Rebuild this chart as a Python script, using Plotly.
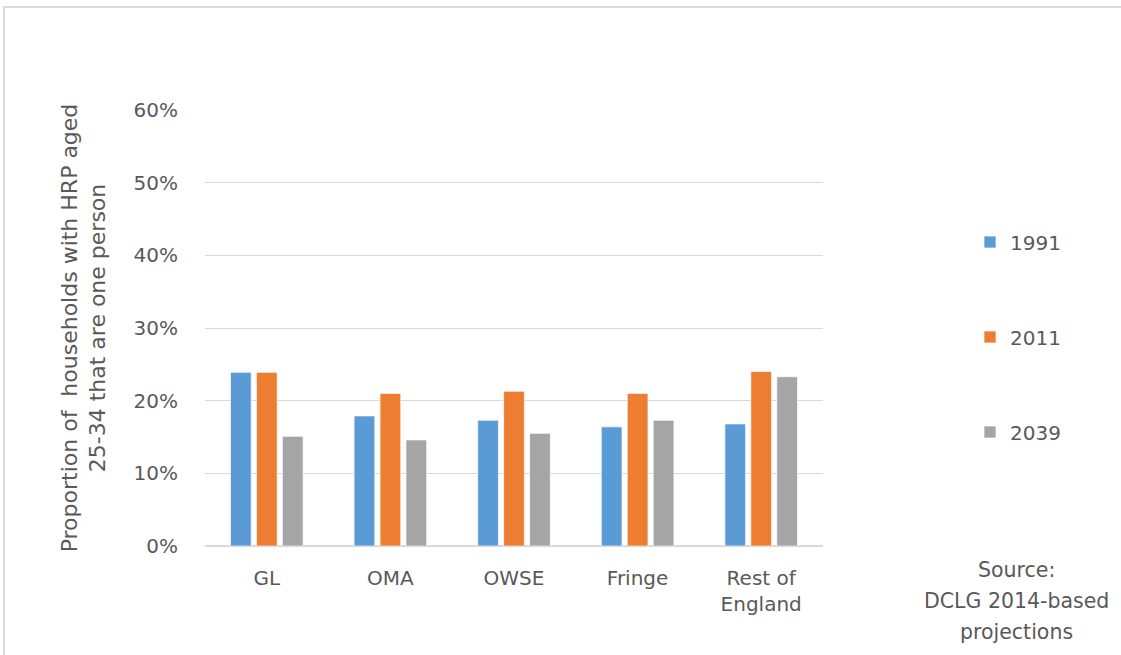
import plotly.graph_objects as go

categories = ["GL", "OMA", "OWSE", "Fringe", "Rest of<br>England"]
years = ["1991", "2011", "2039"]
values_1991 = [0.239, 0.179, 0.173, 0.164, 0.168]
values_2011 = [0.239, 0.210, 0.213, 0.210, 0.240]
values_2039 = [0.151, 0.146, 0.155, 0.173, 0.233]
colors = ["#5b9bd5", "#ed7d31", "#a5a5a5"]
y_ticks = [0, 0.1, 0.2, 0.3, 0.4, 0.5, 0.6]
y_tick_labels = ["0%", "10%", "20%", "30%", "40%", "50%", "60%"]
source_lines = ["Source:", "DCLG 2014-based", "projections"]

FONT = "DejaVu Sans"
TXT = "#595959"

W, H = 1121, 655
L, R, T, B = 205, 823, 110, 546

def px_x(p):
    return (p - L) / (R - L)

def px_y(p):
    return (B - p) / (B - T)

fig = go.Figure()
for name, vals, col in zip(years, [values_1991, values_2011, values_2039], colors):
    fig.add_trace(go.Bar(
        x=categories, y=vals, name=name, legendgroup=name,
        marker=dict(color=col, line=dict(color="rgba(255,255,255,0.7)", width=1)),
    ))

annotations = []
for i, line in enumerate(source_lines):
    annotations.append(dict(
        text=line, xref="paper", yref="paper",
        x=px_x(1016), y=px_y(570 + 31 * i),
        xanchor="center", yanchor="middle", showarrow=False,
        font=dict(size=20.5, color=TXT, family=FONT),
    ))

fig.update_layout(
    width=W, height=H,
    margin=dict(l=L, r=W - R, t=T, b=H - B),
    paper_bgcolor="white", plot_bgcolor="white",
    barmode="group", bargap=0.37, bargroupgap=0.2,
    font=dict(family=FONT, color=TXT, size=19),
    legend=dict(
        x=px_x(970), y=px_y(337), xanchor="left", yanchor="middle",
        traceorder="grouped", tracegroupgap=66,
        font=dict(size=20, color=TXT, family=FONT),
        itemwidth=30,
    ),
    xaxis=dict(
        showgrid=False, showline=False, ticks="",
        ticklabelstandoff=18,
        tickfont=dict(size=20, color=TXT, family=FONT),
    ),
    yaxis=dict(
        range=[0, 0.6], tickvals=y_ticks, ticktext=y_tick_labels,
        showgrid=True, gridcolor="#d9d9d9", gridwidth=1,
        zeroline=True, zerolinecolor="#d9d9d9", zerolinewidth=1.5,
        showline=False, ticks="",
        ticklabelstandoff=26,
        tickfont=dict(size=20, color=TXT, family=FONT),
        title=dict(
            text="Proportion of  households with HRP aged<br>25-34 that are one person",
            font=dict(size=22, color=TXT, family=FONT),
            standoff=21,
        ),
    ),
    shapes=[dict(
        type="rect", xref="paper", yref="paper",
        x0=px_x(4), x1=px_x(1135), y0=px_y(665), y1=px_y(7),
        line=dict(color="#d9d9d9", width=2), layer="below",
    )],
    annotations=annotations,
)

fig.write_html("out.html", config={"displayModeBar": False},
               post_script="document.body.style.margin='0';")
